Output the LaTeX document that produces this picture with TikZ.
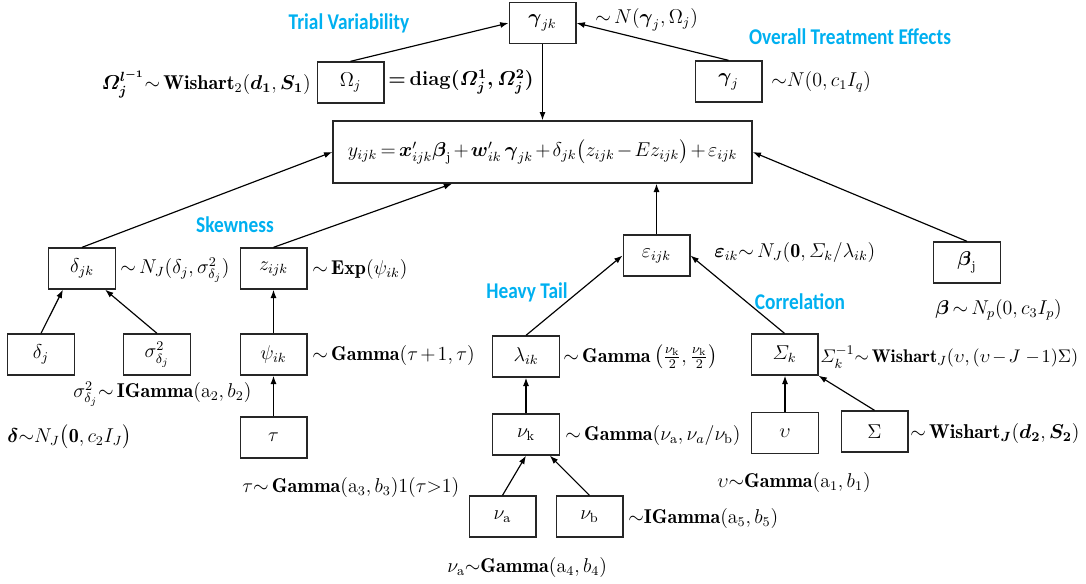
\documentclass[tikz,border=0pt]{standalone}
\usepackage{amsmath,amssymb}
\usepackage{fontspec}
\newfontfamily\topicfont[FakeStretch=0.86]{Carlito}
\usetikzlibrary{arrows.meta,calc,positioning}
\definecolor{topicblue}{HTML}{00B0F0}
\definecolor{boxink}{HTML}{262626}
\medmuskip=2mu plus 1mu minus 1mu
\thickmuskip=3mu plus 2mu
\tikzset{
  every picture/.style={font=\fontsize{12}{14}\selectfont},
  box/.style={draw=boxink,line width=0.8pt,minimum width=40pt,
    minimum height=24.6pt,inner sep=1pt},
  modelbox/.style={box,minimum width=251.4pt,minimum height=37.2pt},
  link/.style={draw=black,line width=0.7pt,-{Latex[length=5pt,width=3.6pt]}},
  prior/.style={anchor=west,inner sep=0pt},
  topic/.style={text=topicblue,font=\topicfont\bfseries\fontsize{13.5}{15}\selectfont,inner sep=0pt},
}
\begin{document}
\begin{tikzpicture}[x=0.6pt,y=-0.6pt]
  \path[use as bounding box] (0,0) rectangle (1086,583);
  % top layer
  \node[box] (gjk) at (542.5,23) {$\boldsymbol{\gamma}_{jk}$};
  \node[box] (omegaj) at (350.5,82.5) {$\Omega_j$};
  \node[box] (gammaj) at (728.5,81.5) {$\boldsymbol{\gamma}_j$};
  \node[modelbox] (model) at (542.5,152)
    {$y_{ijk}=\boldsymbol{x}'_{ijk}\boldsymbol{\beta}_{\mathrm{j}}
      +\boldsymbol{w}'_{ik}\,\boldsymbol{\gamma}_{jk}
      +\delta_{jk}\bigl(z_{ijk}-Ez_{ijk}\bigr)+\varepsilon_{ijk}$};
  % skewness branch
  \node[box] (djk) at (82,268.5) {$\delta_{jk}$};
  \node[box] (zijk) at (273.5,268.5) {$z_{ijk}$};
  \node[box] (dj) at (41,354.5) {$\delta_j$};
  \node[box] (sigd) at (157,354.5) {$\sigma^2_{\delta_j}$};
  \node[box] (psi) at (273.5,354.5) {$\psi_{ik}$};
  \node[box] (tau) at (273.5,437.5) {$\tau$};
  % error branch
  \node[box] (eps) at (656.5,255.5) {$\varepsilon_{ijk}$};
  \node[box] (betaj) at (967,262.5) {$\boldsymbol{\beta}_{\mathrm{j}}$};
  \node[box] (lam) at (526,356.5) {$\lambda_{ik}$};
  \node[box] (sigk) at (784.5,354.5) {$\varSigma_k$};
  \node[box] (nuk) at (526,434.5) {$\nu_{\mathrm{k}}$};
  \node[box] (upsilon) at (785,433) {$\upsilon$};
  \node[box] (bigsig) at (874.5,431.5) {$\Sigma$};
  \node[box] (nua) at (502.5,516.5) {$\nu_{\mathrm{a}}$};
  \node[box] (nub) at (589.5,516.5) {$\nu_{\mathrm{b}}$};

  \draw[link] (omegaj.north) -- (gjk.west);
  \draw[link] (gammaj.north) -- (gjk.east);
  \draw[link] (gjk.south) -- (model.north);
  \draw[link] (djk.north) -- (model.west);
  \draw[link] (zijk.north) -- ($(model.south west)!.285!(model.south east)$);
  \draw[link] (eps.north) -- (eps.north |- model.south);
  \draw[link] (betaj.north) -- (model.east);
  \draw[link] (dj.north) -- ($(djk.south west)!.22!(djk.south east)$);
  \draw[link] (sigd.north) -- ($(djk.south west)!.84!(djk.south east)$);
  \draw[link] (psi) -- (zijk);
  \draw[link] (tau) -- (psi);
  \draw[link] (lam.north) -- (eps.west);
  \draw[link] (sigk.north) -- (eps.east);
  \draw[link] (nuk) -- (lam);
  \draw[link] (upsilon.north) -- (upsilon.north |- sigk.south);
  \draw[link] (bigsig.north) -- (sigk.south east);
  \draw[link] (nua.north) -- (nuk.south);
  \draw[link] (nub.north) -- ($(nuk.south)!.7!(nuk.south east)$);

  % topic labels
  \node[topic] (t-trial) at (349,23) {Trial Variability};
  \node[topic] (t-overall) at (850,37) {Overall Treatment Effects};
  \node[topic] (t-skew) at (235,225) {Skewness};
  \node[topic] (t-heavy) at (527,292) {Heavy Tail};
  \node[topic] (t-corr) at (800,302) {Correlation};

  % priors
  \node[prior] (p-gjk) at (595,20) {$\sim N(\boldsymbol{\gamma}_j,\Omega_j)$};
  \node[prior,anchor=east] (p-omega) at (311,84)
    {$\boldsymbol{\varOmega_j^{l^{-1}}}\!\sim\mathbf{Wishart}_2(\boldsymbol{d_1},\boldsymbol{S_1})$};
  \node[prior] (p-diag) at (388,82)
    {$\boldsymbol{=\mathbf{diag}(\varOmega_j^1,\varOmega_j^2)}$};
  \node[prior] (p-gammaj) at (771,82) {$\sim\! N(0,c_1I_q)$};
  \node[prior] (p-djk) at (120,270) {$\sim N_J(\delta_j,\sigma^2_{\delta_j})$};
  \node[prior] (p-zijk) at (312,269) {$\sim\mathbf{Exp}(\psi_{ik})$};
  \node[prior] (p-psi) at (312,355) {$\sim\mathbf{Gamma}(\tau+1,\tau)$};
  \node[prior] (p-sigd) at (73,394)
    {$\sigma^2_{\delta_j}\!\sim\mathbf{IGamma}(\mathrm{a}_2,b_2)$};
  \node[prior] (p-delta) at (7,437)
    {$\boldsymbol{\delta}\!\sim\! N_J\bigl(\mathbf{0},c_2I_J\bigr)$};
  \node[prior] (p-tau) at (242,487)
    {$\tau\!\sim\mathbf{Gamma}(\mathrm{a}_3,b_3)1(\tau{>}1)$};
  \node[prior] (p-eps) at (714,252)
    {$\boldsymbol{\varepsilon}_{ik}\!\sim N_J(\mathbf{0},\varSigma_k/\lambda_{ik})$};
  \node[prior] (p-beta) at (935,310) {$\boldsymbol{\beta}\sim N_p(0,c_3I_p)$};
  \node[prior] (p-lam) at (563,357)
    {$\sim\mathbf{Gamma}\left(\frac{\nu_{\mathrm{k}}}{2},\frac{\nu_{\mathrm{k}}}{2}\right)$};
  \node[prior,font=\fontsize{11}{13}\selectfont] (p-sigk) at (820,357)
    {$\varSigma_k^{-1}\!\sim\mathbf{Wishart}_J(\upsilon,(\upsilon-J\,-1)\Sigma)$};
  \node[prior] (p-nuk) at (565,435)
    {$\sim\mathbf{Gamma}(\nu_{\mathrm{a}},\nu_a/\nu_{\mathrm{b}})$};
  \node[prior] (p-upsilon) at (717,482)
    {$\upsilon\!\sim\!\mathbf{Gamma}(\mathrm{a}_1,b_1)$};
  \node[prior] (p-bigsig) at (910,433)
    {$\sim\mathbf{Wishart}_{\boldsymbol{J}}(\boldsymbol{d_2},\boldsymbol{S_2})$};
  \node[prior] (p-nub) at (628,518) {$\sim\!\mathbf{IGamma}(\mathrm{a}_5,b_5)$};
  \node[prior] (p-nua) at (447,567)
    {$\nu_{\mathrm{a}}\!\sim\!\mathbf{Gamma}(\mathrm{a}_4,b_4)$};
\end{tikzpicture}
\end{document}
